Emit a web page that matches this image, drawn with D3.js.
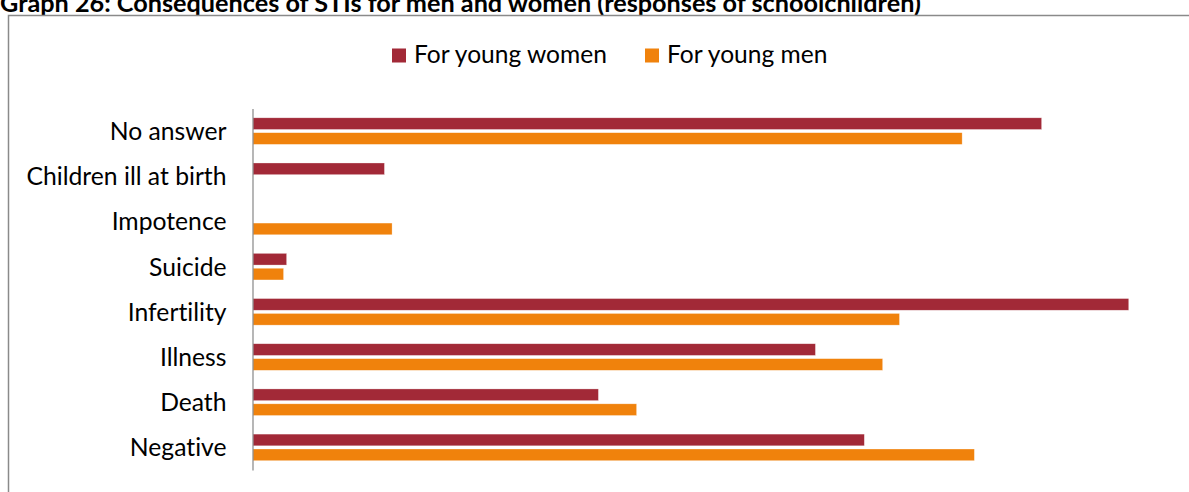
<!DOCTYPE html>
<html>
<head>
<meta charset="utf-8">
<script src="https://cdn.jsdelivr.net/npm/d3@7"></script>
<style>
  html, body { margin: 0; padding: 0; background: #ffffff; overflow: hidden; }
  svg { display: block; }
  text { font-family: Lato, "Open Sans", sans-serif; fill: #000;
         font-variant-ligatures: none; font-feature-settings: "liga" 0, "clig" 0; }
</style>
</head>
<body>
<svg id="chart" width="1189" height="492"></svg>
<script>
// Chart content
const title = "Graph 26: Consequences of STIs for men and women (responses of schoolchildren)";
const categories = ["No answer", "Children ill at birth", "Impotence", "Suicide",
                    "Infertility", "Illness", "Death", "Negative"];
const seriesNames = ["For young women", "For young men"];
// Share of responses (%)
const womenValues = [51.6, 8.6, 0, 2.2, 57.3, 36.8, 22.6, 40.0];
const menValues   = [46.4, 0, 9.1, 2.0, 42.3, 41.2, 25.1, 47.2];
const xDomain = [0, 60];

const colors = { "For young women": "#A22937", "For young men": "#F0820C" };

const svg = d3.select("#chart");

// Scale font size so a text element spans a given width
function fitWidth(sel, target) {
  const node = sel.node();
  const fs = parseFloat(sel.attr("font-size"));
  const w = node.getComputedTextLength();
  sel.attr("font-size", (fs * target / w).toFixed(2));
}

// Title (sits partly above the top edge)
const t = svg.append("text")
  .attr("x", 0).attr("y", 12)
  .attr("font-size", 24).attr("font-weight", "bold")
  .text(title);
fitWidth(t, 921);

// Chart frame (runs past the right and bottom edges)
svg.append("rect")
  .attr("x", 8.5).attr("y", 15.5)
  .attr("width", 1400).attr("height", 800)
  .attr("fill", "none").attr("stroke", "#8a8a8a").attr("stroke-width", 1.5);

// Scales
const x = d3.scaleLinear().domain(xDomain).range([253, 1170]);
const y = d3.scaleBand().domain(categories).range([108.5, 470]);
const ySub = d3.scaleBand().domain(seriesNames)
  .range([9.3, y.bandwidth() - 9.3]).paddingInner(0.215);

const rows = categories.map((c, i) => ({
  category: c,
  values: [
    { series: seriesNames[0], value: womenValues[i] },
    { series: seriesNames[1], value: menValues[i] }
  ]
}));

// Bars
const groups = svg.append("g").selectAll("g")
  .data(rows).join("g")
  .attr("transform", d => `translate(0,${y(d.category)})`);

groups.selectAll("rect")
  .data(d => d.values.filter(v => v.value > 0))
  .join("rect")
  .attr("x", x(0))
  .attr("y", d => ySub(d.series))
  .attr("width", d => x(d.value) - x(0))
  .attr("height", ySub.bandwidth())
  .attr("fill", d => colors[d.series])
  .attr("stroke", "#ffffff").attr("stroke-opacity", 0.5).attr("stroke-width", 0.6);

// Category axis
const yAxis = svg.append("g")
  .attr("transform", `translate(${x(0) - 0.5},0)`)
  .call(d3.axisLeft(y).tickSize(0).tickPadding(26));
yAxis.select(".domain").attr("stroke", "#868686").attr("stroke-width", 1.2);
yAxis.selectAll(".tick text")
  .attr("font-size", 24)
  .attr("font-family", "Lato, 'Open Sans', sans-serif")
  .attr("fill", "#000")
  .attr("dy", "0.36em");
yAxis.selectAll(".tick text").each(function(d) {
  if (d === "Children ill at birth") {
    const sel = d3.select(this);
    const fs = parseFloat(sel.attr("font-size"));
    const w = this.getComputedTextLength();
    yAxis.selectAll(".tick text").attr("font-size", (fs * 200 / w).toFixed(2));
  }
});

// Legend
const legendPos = [392, 645];
const legend = svg.append("g").selectAll("g")
  .data(seriesNames).join("g")
  .attr("transform", (d, i) => `translate(${legendPos[i]},48.5)`);
legend.append("rect")
  .attr("width", 14).attr("height", 14)
  .attr("fill", d => colors[d]);
const legendText = legend.append("text")
  .attr("x", 22).attr("y", 14)
  .attr("font-size", 24)
  .text(d => d);
fitWidth(legendText.filter((d, i) => i === 0), 193);
legendText.attr("font-size", legendText.filter((d, i) => i === 0).attr("font-size"));
</script>
</body>
</html>
